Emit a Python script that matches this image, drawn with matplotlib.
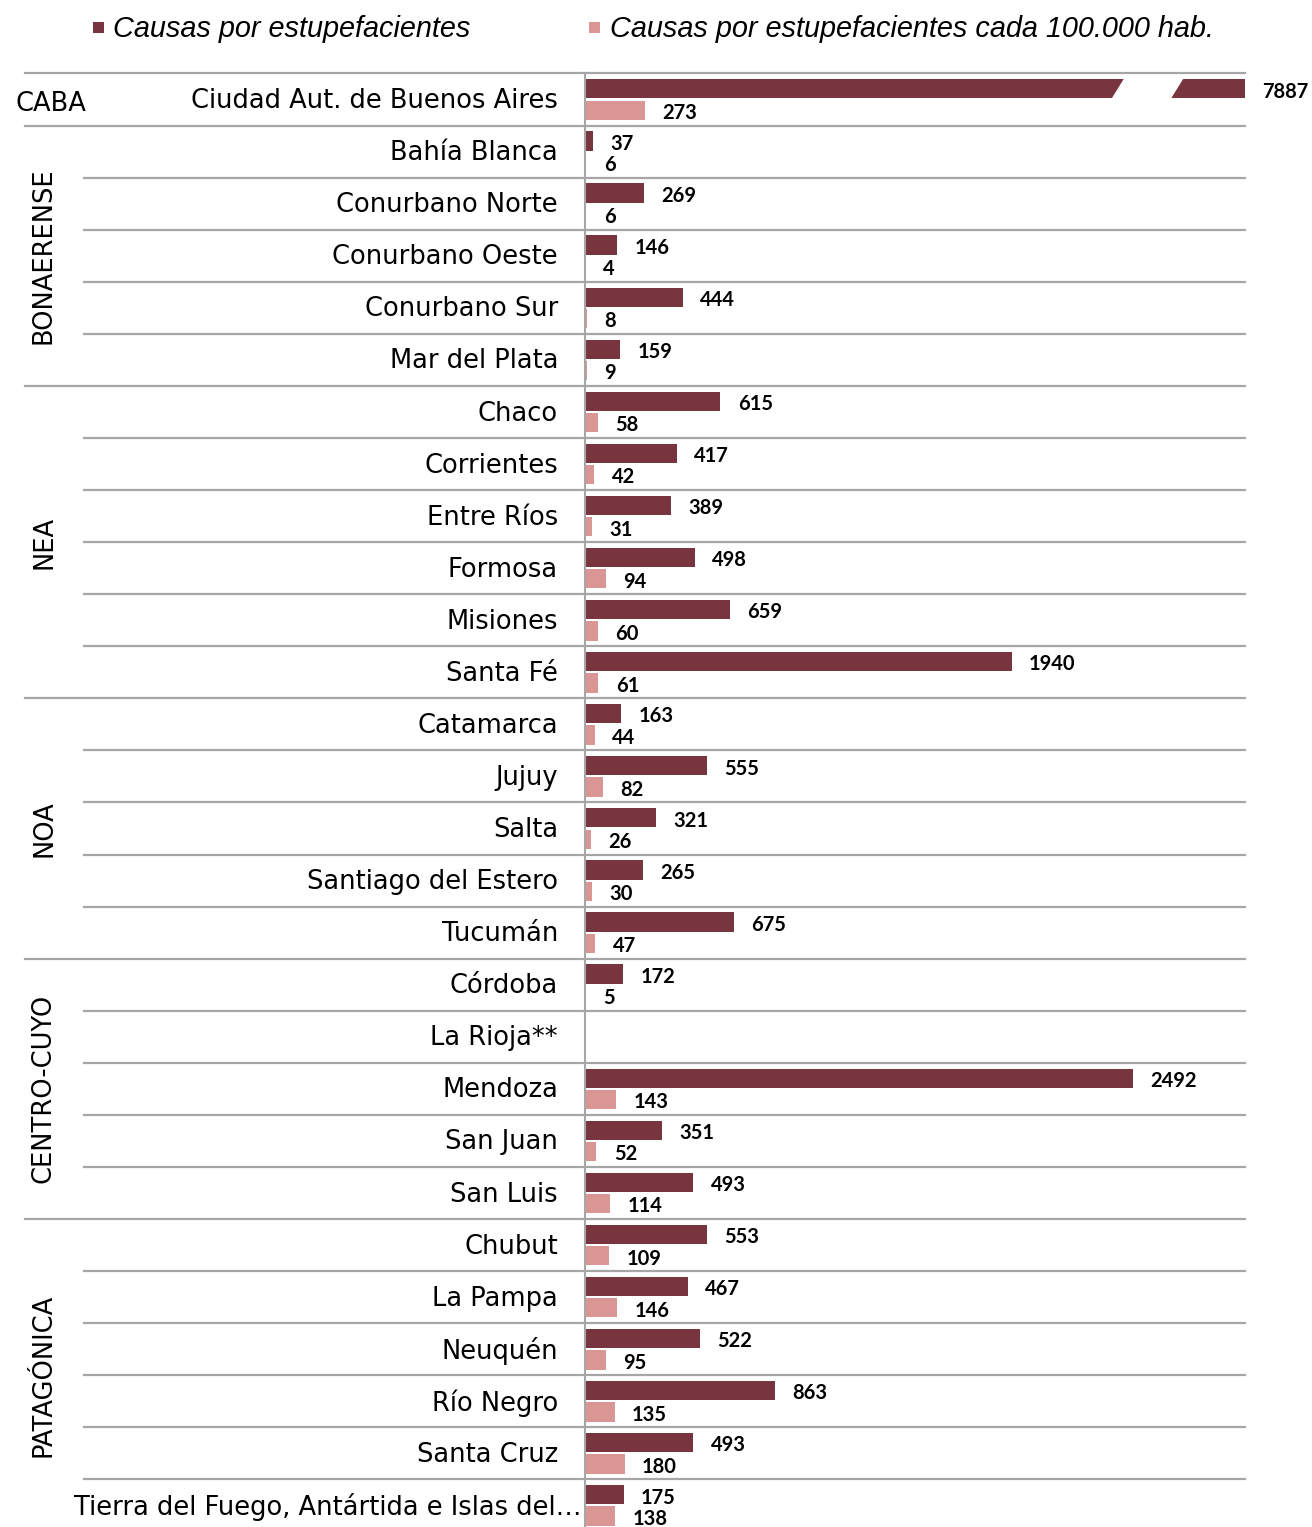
import matplotlib
matplotlib.use("Agg")
import matplotlib.pyplot as plt
import matplotlib.transforms as mtransforms
from matplotlib.patches import Rectangle, Polygon
from matplotlib.lines import Line2D

# ---------------- data ----------------
categories = [
    "Ciudad Aut. de Buenos Aires",
    "Bahía Blanca", "Conurbano Norte", "Conurbano Oeste", "Conurbano Sur", "Mar del Plata",
    "Chaco", "Corrientes", "Entre Ríos", "Formosa", "Misiones", "Santa Fé",
    "Catamarca", "Jujuy", "Salta", "Santiago del Estero", "Tucumán",
    "Córdoba", "La Rioja**", "Mendoza", "San Juan", "San Luis",
    "Chubut", "La Pampa", "Neuquén", "Río Negro", "Santa Cruz",
    "Tierra del Fuego, Antártida e Islas del…",
]
causas = [7887,
          37, 269, 146, 444, 159,
          615, 417, 389, 498, 659, 1940,
          163, 555, 321, 265, 675,
          172, None, 2492, 351, 493,
          553, 467, 522, 863, 493, 175]
causas_100k = [273,
               6, 6, 4, 8, 9,
               58, 42, 31, 94, 60, 61,
               44, 82, 26, 30, 47,
               5, None, 143, 52, 114,
               109, 146, 95, 135, 180, 138]
groups = ["CABA", "BONAERENSE", "NEA", "NOA", "CENTRO-CUYO", "PATAGÓNICA"]
group_sizes = [1, 5, 6, 5, 5, 6]
series_names = ["Causas por estupefacientes", "Causas por estupefacientes cada 100.000 hab."]

# ---------------- style ----------------
W, H = 1312, 1527
DARK = "#78343F"
LIGHT = "#D99694"
GRID = "#A6A6A6"
CAT_FONT = "DejaVu Sans"
CAT_SIZE = 18.5
VAL_FONT = "Lato"
VAL_SIZE = 14.5
XMAX = 3000

fig = plt.figure(figsize=(W / 100, H / 100), dpi=100)
ax_left, ax_right, ax_top = 585, 1245, 73.5
ax = fig.add_axes([ax_left / W, 0, (ax_right - ax_left) / W, 1 - ax_top / H])
row_px = 52.07
n = len(categories)
ax.set_xlim(0, XMAX)
ax.set_ylim(-0.5 + (H - ax_top) / row_px, -0.5)

for s in ["top", "right", "bottom"]:
    ax.spines[s].set_visible(False)
ax.spines["left"].set_color(GRID)
ax.spines["left"].set_linewidth(1.5)
ax.set_xticks([])
ax.set_yticks([])

bh = 0.37
off = 0.205
for i in range(n):
    v1, v2 = causas[i], causas_100k[i]
    if v1 is not None:
        ax.barh(i - off, v1, height=bh, color=DARK, zorder=2)
    if v2 is not None:
        ax.barh(i + off, v2, height=bh, color=LIGHT, zorder=2)

# value labels
for i in range(n):
    v1, v2 = causas[i], causas_100k[i]
    if v1 is not None:
        x = min(v1, XMAX)
        ax.annotate(str(v1), (x, i - off), xytext=(12.5, -2), textcoords="offset points",
                    ha="left", va="center", fontsize=VAL_SIZE, fontweight="bold",
                    family=VAL_FONT, annotation_clip=False)
    if v2 is not None:
        ax.annotate(str(v2), (v2, i + off), xytext=(12.5, -2), textcoords="offset points",
                    ha="left", va="center", fontsize=VAL_SIZE, fontweight="bold", family=VAL_FONT)

# axis break on the oversized bar
bt = mtransforms.blended_transform_factory(ax.transAxes, ax.transData)
for i in range(n):
    if causas[i] is not None and causas[i] > XMAX:
        y0, y1 = i - off + bh / 2 + 0.02, i - off - bh / 2 - 0.02
        ax.add_patch(Polygon([(0.797, y0), (0.887, y0), (0.907, y1), (0.817, y1)],
                             closed=True, transform=bt, facecolor="white",
                             edgecolor="none", zorder=3))

# horizontal separators
ft = mtransforms.blended_transform_factory(fig.transFigure, ax.transData)
starts = []
acc = 0
for g in group_sizes:
    starts.append(acc)
    acc += g
for i in range(n):
    x0 = 25 if i in starts else 84
    fig.add_artist(Line2D([x0 / W, ax_right / W], [i - 0.5, i - 0.5], transform=ft,
                          color=GRID, lw=1.6, zorder=1))

# category labels
for i, c in enumerate(categories):
    xr = 582 if i == n - 1 else 558
    ax.text(xr / W, i + 0.03, c, transform=ft, ha="right", va="center",
            fontsize=CAT_SIZE, family=CAT_FONT, color="black")

# group labels
for g, s, sz in zip(groups, starts, group_sizes):
    yc = s + (sz - 1) / 2
    if sz == 1:
        ax.text(51 / W, yc + 0.08, g, transform=ft, ha="center", va="center",
                fontsize=CAT_SIZE, family=CAT_FONT)
    else:
        ax.text(44 / W, yc, g, transform=ft, ha="center", va="center",
                rotation=90, fontsize=CAT_SIZE, family=CAT_FONT)

# legend
leg_y = 1 - 29 / H
sq = 11
for (xs, xt), name, col in zip([(93, 113), (589, 610)], series_names, [DARK, LIGHT]):
    fig.add_artist(Rectangle((xs / W, 1 - 33 / H), sq / W, sq / H, transform=fig.transFigure,
                             facecolor=col, edgecolor="none"))
    fig.text(xt / W, leg_y, name, ha="left", va="center", fontsize=20.8,
             style="italic", family="Liberation Sans")

fig.savefig("out.png", dpi=100, facecolor="white")
